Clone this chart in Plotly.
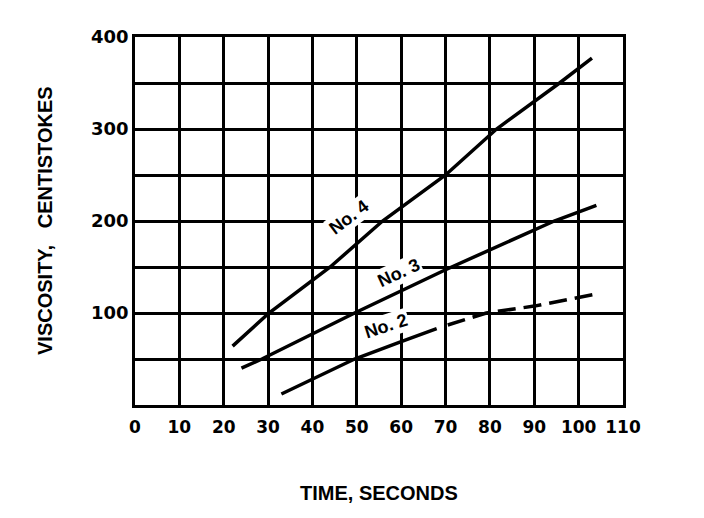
import plotly.graph_objects as go

# Data (time in seconds, viscosity in centistokes)
no4_time = [22.0, 30.2, 44.0, 55.8, 70.0, 81.5, 95.7, 103.0]
no4_visc = [64.0, 100.0, 150.0, 200.0, 250.0, 300.0, 350.0, 377.0]

no3_time = [24.0, 28.6, 49.5, 70.0, 94.5, 104.0]
no3_visc = [40.0, 50.0, 100.0, 147.0, 200.0, 217.0]

no2_solid_time = [33.0, 40.0, 49.5, 60.0, 68.0]
no2_solid_visc = [12.0, 28.0, 50.0, 69.0, 83.0]

no2_dash_time = [70.5, 79.2, 90.0, 100.0, 103.2]
no2_dash_visc = [87.0, 100.0, 107.5, 117.5, 120.0]

x_ticks = list(range(0, 111, 10))
x_tick_text = [str(v) for v in x_ticks]
y_ticks = list(range(0, 401, 50))
y_tick_text = [str(v) if v % 100 == 0 and v > 0 else "" for v in y_ticks]

labels = ["No.\u00a04", "No.\u00a03", "No. 2"]
label_x = [48.3, 59.4, 56.6]
label_y = [204.0, 143.0, 86.0]
label_angle = [-37, -25, -18]

fig = go.Figure()
line_style = dict(color="black", width=3.5)
fig.add_trace(go.Scatter(x=no4_time, y=no4_visc, mode="lines", line=line_style))
fig.add_trace(go.Scatter(x=no3_time, y=no3_visc, mode="lines", line=line_style))
fig.add_trace(go.Scatter(x=no2_solid_time, y=no2_solid_visc, mode="lines", line=line_style))
fig.add_trace(go.Scatter(x=no2_dash_time, y=no2_dash_visc, mode="lines",
                         line=dict(color="black", width=3.5, dash="18px,8px")))

for t, lx, ly, ang in zip(labels, label_x, label_y, label_angle):
    fig.add_annotation(x=lx, y=ly, text=t, textangle=ang, showarrow=False,
                       bgcolor="white", borderpad=1,
                       font=dict(family="Liberation Sans", size=18, color="black", weight="bold"))

fig.add_annotation(xref="paper", yref="paper", x=0.5, y=-88 / 368, text="TIME, SECONDS",
                   showarrow=False, xanchor="center", yanchor="middle",
                   font=dict(family="Liberation Sans", size=20, color="black", weight="bold"))
fig.add_annotation(xref="paper", yref="paper", x=-90 / 488, y=0.5,
                   text="VISCOSITY,\u00a0\u00a0\u00a0CENTISTOKES", textangle=-90,
                   showarrow=False, xanchor="center", yanchor="middle",
                   font=dict(family="Liberation Sans", size=20, color="black", weight="bold"))

fig.update_layout(
    width=704, height=518,
    margin=dict(l=135, r=81, t=37, b=113),
    paper_bgcolor="white", plot_bgcolor="white",
    showlegend=False,
)
fig.update_xaxes(range=[0, 110], tickvals=x_ticks, ticktext=x_tick_text,
                 showgrid=True, gridcolor="black", gridwidth=2.5,
                 showline=True, linecolor="black", linewidth=2.5, mirror=True,
                 zeroline=False, ticks="", ticklabelstandoff=5,
                 tickfont=dict(family="DejaVu Sans", size=17, color="black", weight=600))
fig.update_yaxes(range=[0, 400], tickvals=y_ticks, ticktext=y_tick_text,
                 showgrid=True, gridcolor="black", gridwidth=2.5,
                 showline=True, linecolor="black", linewidth=2.5, mirror=True,
                 zeroline=False, ticks="", ticklabelstandoff=0,
                 tickfont=dict(family="DejaVu Sans", size=18, color="black", weight=600))

fig.write_html("out.html")
